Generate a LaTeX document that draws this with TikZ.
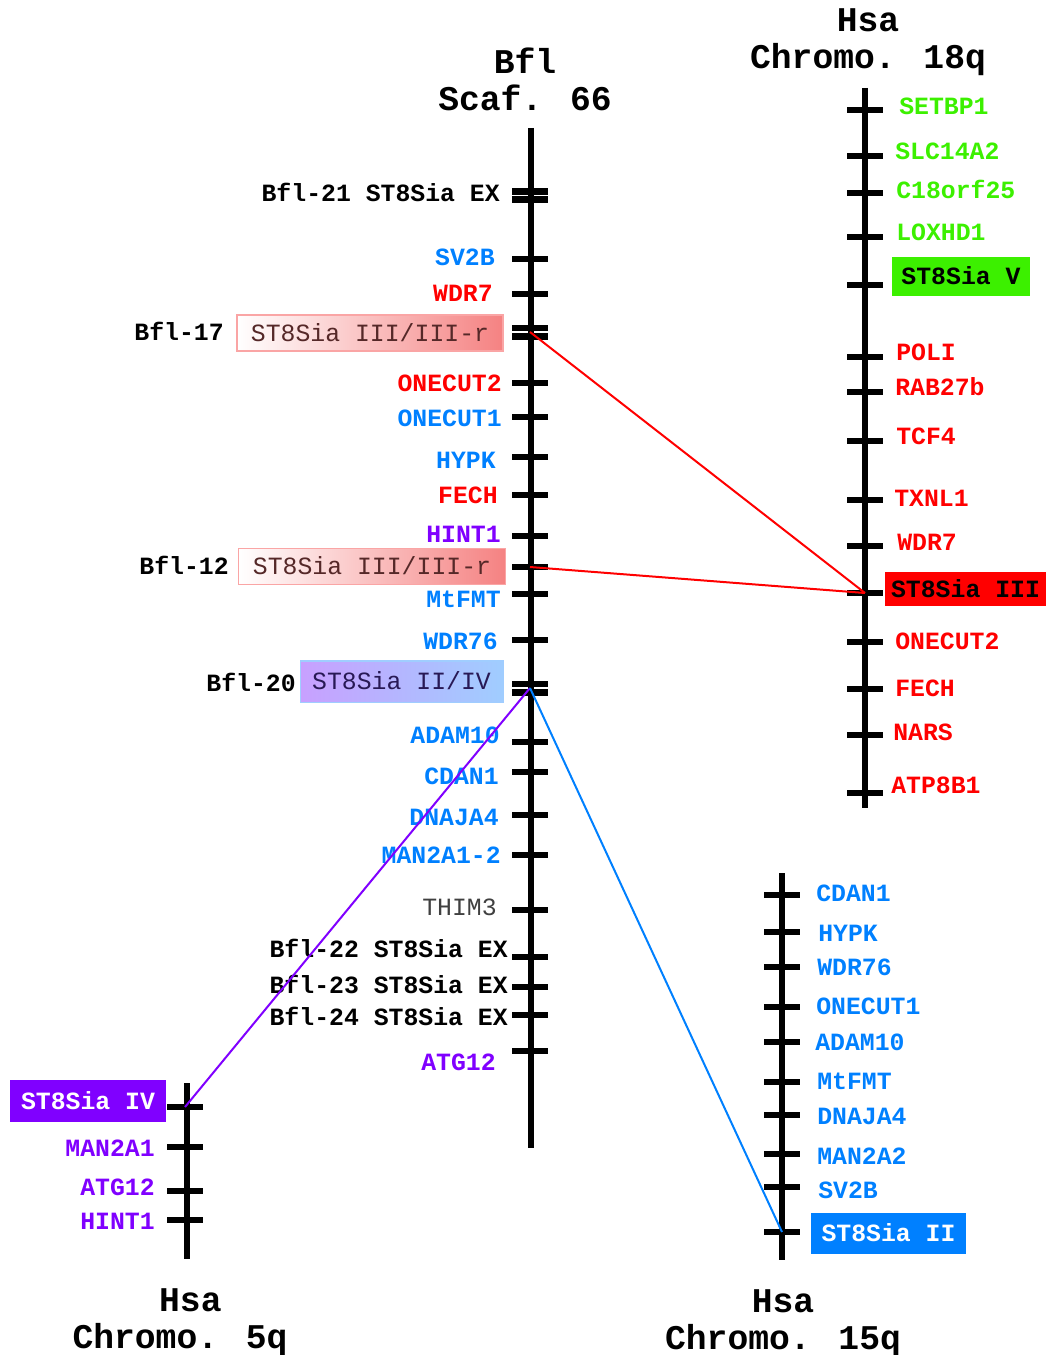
\documentclass[tikz,border=0pt]{standalone}
\usepackage{fontspec}
\setmainfont{Liberation Mono}
\usetikzlibrary{positioning}

\definecolor{geneblue}{RGB}{0,128,255}
\definecolor{genered}{RGB}{255,0,0}
\definecolor{genegreen}{RGB}{60,240,0}
\definecolor{genepurple}{RGB}{128,0,255}
\definecolor{boxred}{RGB}{245,130,130}
\definecolor{boxredline}{RGB}{250,165,165}
\definecolor{boxviolet}{RGB}{200,160,255}
\definecolor{boxsky}{RGB}{160,205,255}
\definecolor{redtext}{RGB}{85,40,40}
\definecolor{navytext}{RGB}{40,25,85}

\newcommand\genefont{\fontsize{18.6}{20}\selectfont}

\tikzset{
  axis/.style={line width=4.5pt},
  tick/.style={rectangle, fill=black, inner sep=0pt, minimum width=27pt, minimum height=5pt},
  dtick/.style={rectangle, inner sep=0pt, minimum width=27pt, minimum height=11.25pt,
    path picture={
      \fill (path picture bounding box.north west) rectangle ([yshift=-5pt]path picture bounding box.north east);
      \fill ([yshift=5pt]path picture bounding box.south west) rectangle (path picture bounding box.south east);}},
  gene/.style={font=\genefont\bfseries, inner sep=0pt, text height=12.2pt, text depth=0pt},
  title/.style={font=\fontsize{26}{27.75}\selectfont\bfseries, align=center, inner sep=0pt},
  fambox/.style={font=\genefont, inner sep=0pt, text height=12.2pt, text depth=0pt},
  hsbox/.style={gene, fill=#1},
  link/.style={line width=1.5pt},
}

\begin{document}
\begin{tikzpicture}[x=0.75pt, y=-0.75pt]
\useasboundingbox (0,0) rectangle (1046,1355);

% titles
\node[title] (tBfl)  at (525,79)   {Bfl\\Scaf. 66};
\node[title] (tHsa18) at (868,42)  {Hsa\\Chromo. 18q};
\node[title] (tHsa15) at (783,1323) {Hsa\\Chromo. 15q};
\node[title] (tHsa5)  at (180,1322) {\ Hsa\\Chromo. 5q};

% boxes behind the Bfl axis
\node[fambox, text=redtext, left color=white, right color=boxred, draw=boxredline, line width=1pt,
      minimum width=199.5pt, minimum height=27pt] (bx17) at (370,333) {ST8Sia III/III-r};
\node[fambox, text=redtext, left color=white, right color=boxred, draw=boxredline, line width=1pt,
      minimum width=200pt, minimum height=27pt] (bx12) at (372,566.5) {ST8Sia III/III-r};
\node[fambox, text=navytext, left color=boxviolet, right color=boxsky, draw=boxsky, line width=1pt,
      minimum width=152pt, minimum height=31pt] (bx20) at (401.5,681.5) {ST8Sia II/IV};

% axes
\coordinate (bTop) at (531,128);   \coordinate (bBot) at (531,1148);
\coordinate (h18Top) at (865,88);  \coordinate (h18Bot) at (865,808);
\coordinate (h15Top) at (782,873); \coordinate (h15Bot) at (782,1260);
\coordinate (h5Top) at (187,1083); \coordinate (h5Bot) at (187,1259);
\draw[axis] (bTop) -- (bBot);
\draw[axis] (h18Top) -- (h18Bot);
\draw[axis] (h15Top) -- (h15Bot);
\draw[axis] (h5Top) -- (h5Bot);

% Bfl scaffold 66
\node[dtick] (b21) at (530,195.5) {};
\node[gene, anchor=east] (lb21) at (500,193) {Bfl-21 ST8Sia EX};
\node[tick] (bSV) at (530,259) {};
\node[gene, text=geneblue, anchor=east] (lbSV) at (495,257) {SV2B};
\node[tick] (bWDRs) at (530,294) {};
\node[gene, text=genered, anchor=east] (lbWDRs) at (493,293) {WDR7};
\node[dtick] (b17) at (530,332) {};
\node[gene, anchor=east] (lb17) at (224,332) {Bfl-17};
\node[tick] (bOCt) at (530,383) {};
\node[gene, text=genered, anchor=east] (lbOCt) at (502,383) {ONECUT2};
\node[tick] (bOCo) at (530,417) {};
\node[gene, text=geneblue, anchor=east] (lbOCo) at (502,418) {ONECUT1};
\node[tick] (bHY) at (530,457) {};
\node[gene, text=geneblue, anchor=east] (lbHY) at (496,460) {HYPK};
\node[tick] (bFE) at (530,495) {};
\node[gene, text=genered, anchor=east] (lbFE) at (498,495) {FECH};
\node[tick] (bHI) at (530,536) {};
\node[gene, text=genepurple, anchor=east] (lbHI) at (501,534) {HINT1};
\node[tick] (b12) at (530,567) {};
\node[gene, anchor=east] (lb12) at (229,566) {Bfl-12};
\node[tick] (bMT) at (530,594) {};
\node[gene, text=geneblue, anchor=east] (lbMT) at (501,599) {MtFMT};
\node[tick] (bWDRss) at (530,640) {};
\node[gene, text=geneblue, anchor=east] (lbWDRss) at (498,641) {WDR76};
\node[dtick] (b20) at (530,688) {};
\node[gene, anchor=east] (lb20) at (296,683) {Bfl-20};
\node[tick] (bAD) at (530,742) {};
\node[gene, text=geneblue, anchor=east] (lbAD) at (500,735) {ADAM10};
\node[tick] (bCD) at (530,772) {};
\node[gene, text=geneblue, anchor=east] (lbCD) at (499,776) {CDAN1};
\node[tick] (bDN) at (530,815) {};
\node[gene, text=geneblue, anchor=east] (lbDN) at (499,817) {DNAJA4};
\node[tick] (bMA) at (530,855) {};
\node[gene, text=geneblue, anchor=east] (lbMA) at (501,855) {MAN2A1-2};
\node[tick] (bTH) at (530,910) {};
\node[fambox, text=black!75, anchor=east] (lbTH) at (497,907) {THIM3};
\node[tick] (b22) at (530,957) {};
\node[gene, anchor=east] (lb22) at (508,949) {Bfl-22 ST8Sia EX};
\node[tick] (b23) at (530,987) {};
\node[gene, anchor=east] (lb23) at (508,985) {Bfl-23 ST8Sia EX};
\node[tick] (b24) at (530,1015) {};
\node[gene, anchor=east] (lb24) at (508,1017) {Bfl-24 ST8Sia EX};
\node[tick] (bAT) at (530,1051) {};
\node[gene, text=genepurple, anchor=east] (lbAT) at (496,1062) {ATG12};

% Hsa chromosome 18q
\node[tick] (hSE) at (865,110) {};
\node[gene, text=genegreen, anchor=west] (lhSE) at (899,106) {SETBP1};
\node[tick] (hSL) at (865,156) {};
\node[gene, text=genegreen, anchor=west] (lhSL) at (895,151) {SLC14A2};
\node[tick] (hCE) at (865,193) {};
\node[gene, text=genegreen, anchor=west] (lhCE) at (896,190) {C18orf25};
\node[tick] (hLO) at (865,237) {};
\node[gene, text=genegreen, anchor=west] (lhLO) at (896,232) {LOXHD1};
\node[tick] (h18V) at (865,285) {};
\node[hsbox=genegreen, minimum width=103.5pt, minimum height=29.25pt] (bxV) at (961,276.5) {ST8Sia V};
\node[tick] (hPO) at (865,357) {};
\node[gene, text=genered, anchor=west] (lhPO) at (896,352) {POLI};
\node[tick] (hRA) at (865,392) {};
\node[gene, text=genered, anchor=west] (lhRA) at (895,387) {RAB27b};
\node[tick] (hTC) at (865,441) {};
\node[gene, text=genered, anchor=west] (lhTC) at (896,436) {TCF4};
\node[tick] (hTX) at (865,500) {};
\node[gene, text=genered, anchor=west] (lhTX) at (894,498) {TXNL1};
\node[tick] (hWDRs) at (865,546) {};
\node[gene, text=genered, anchor=west] (lhWDRs) at (897,542) {WDR7};
\node[tick] (h18III) at (865,593) {};
\node[hsbox=genered, minimum width=120.75pt, minimum height=25.5pt] (bxIII) at (965.5,589) {ST8Sia III};
\node[tick] (hOC) at (865,642) {};
\node[gene, text=genered, anchor=west] (lhOC) at (895,641) {ONECUT2};
\node[tick] (hFE) at (865,689) {};
\node[gene, text=genered, anchor=west] (lhFE) at (895,688) {FECH};
\node[tick] (hNA) at (865,735) {};
\node[gene, text=genered, anchor=west] (lhNA) at (893,732) {NARS};
\node[tick] (hAT) at (865,793) {};
\node[gene, text=genered, anchor=west] (lhAT) at (891,785) {ATP8B1};

% Hsa chromosome 15q
\node[tick] (fCD) at (782,895) {};
\node[gene, text=geneblue, anchor=west] (lfCD) at (816,893) {CDAN1};
\node[tick] (fHY) at (782,932) {};
\node[gene, text=geneblue, anchor=west] (lfHY) at (818,933) {HYPK};
\node[tick] (fWD) at (782,967) {};
\node[gene, text=geneblue, anchor=west] (lfWD) at (817,967) {WDR76};
\node[tick] (fOC) at (782,1007) {};
\node[gene, text=geneblue, anchor=west] (lfOC) at (816,1006) {ONECUT1};
\node[tick] (fAD) at (782,1042) {};
\node[gene, text=geneblue, anchor=west] (lfAD) at (815,1042) {ADAM10};
\node[tick] (fMT) at (782,1082) {};
\node[gene, text=geneblue, anchor=west] (lfMT) at (817,1081) {MtFMT};
\node[tick] (fDN) at (782,1115) {};
\node[gene, text=geneblue, anchor=west] (lfDN) at (817,1116) {DNAJA4};
\node[tick] (fMA) at (782,1154) {};
\node[gene, text=geneblue, anchor=west] (lfMA) at (817,1156) {MAN2A2};
\node[tick] (fSV) at (782,1187) {};
\node[gene, text=geneblue, anchor=west] (lfSV) at (818,1190) {SV2B};
\node[tick] (f15II) at (782,1232) {};
\node[hsbox=geneblue, text=white, minimum width=116.25pt, minimum height=30.75pt] (bxII) at (888.5,1233.5) {ST8Sia II};

% Hsa chromosome 5q
\node[tick] (v5IV) at (185,1107) {};
\node[hsbox=genepurple, text=white, minimum width=117pt, minimum height=31.5pt] (bxIV) at (88,1101) {ST8Sia IV};
\node[tick] (vMA) at (185,1147) {};
\node[gene, text=genepurple, anchor=east] (lvMA) at (155,1148) {MAN2A1};
\node[tick] (vAT) at (185,1191) {};
\node[gene, text=genepurple, anchor=east] (lvAT) at (155,1187) {ATG12};
\node[tick] (vHI) at (185,1220) {};
\node[gene, text=genepurple, anchor=east] (lvHI) at (155,1221) {HINT1};

% links
\draw[link, genered] (b17.center) -- (h18III.center);
\draw[link, genered] (b12.center) -- (h18III.center);
\draw[link, genepurple] (b20.center) -- (v5IV.center);
\draw[link, geneblue] (b20.center) -- (f15II.center);

\end{tikzpicture}
\end{document}
